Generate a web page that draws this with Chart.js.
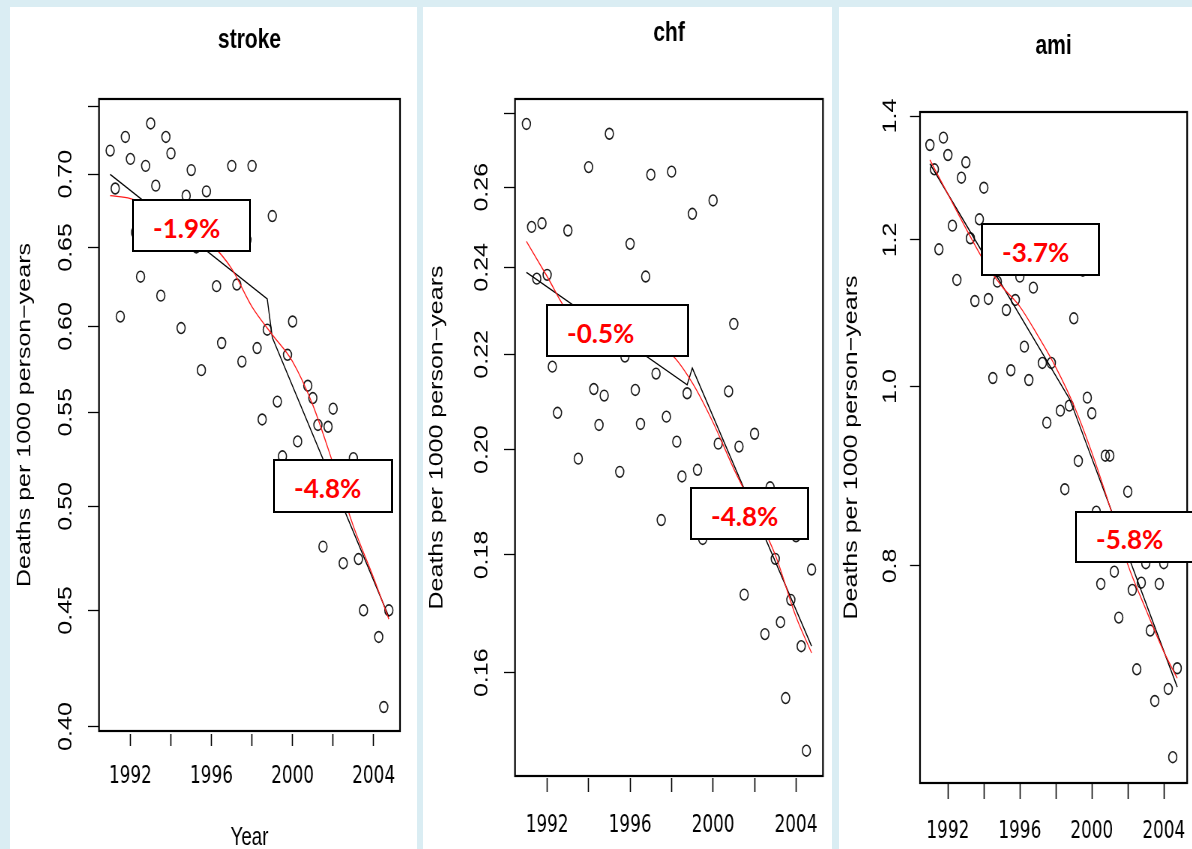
<!DOCTYPE html>
<html>
<head>
<meta charset="utf-8">
<title>Deaths per 1000 person-years: stroke, chf, ami</title>
<script src="https://cdn.jsdelivr.net/npm/chart.js@4.4.1/dist/chart.umd.min.js"></script>
<style>
  html, body { margin: 0; padding: 0; }
  body { width: 1192px; height: 849px; background: #daedf3; position: relative; overflow: hidden; }
  .panel { position: absolute; top: 7px; height: 842px; background: #fff; overflow: hidden; }
  /* the original plots are squeezed sideways, so draw wide and compress */
  .squeeze { position: absolute; left: 0; top: 0; transform: scaleX(0.75); transform-origin: 0 0; }
  .squeeze canvas { display: block; }
  .note { position: absolute; box-sizing: border-box; background: #fff; border: 2px solid #000;
          color: #ff0000; font: 700 26px Lato, 'Open Sans', sans-serif;
          display: flex; align-items: center; padding: 4px 0 0 19px; white-space: nowrap; }
</style>
</head>
<body>

<div class="panel" style="left:10px; width:407px;">
  <div class="squeeze" style="width:543px;"><canvas id="strokeChart" width="543" height="860"></canvas></div>
</div>
<div class="panel" style="left:423px; width:409px;">
  <div class="squeeze" style="width:545px;"><canvas id="chfChart" width="545" height="860"></canvas></div>
</div>
<div class="panel" style="left:839px; width:353px;">
  <div class="squeeze" style="width:480px;"><canvas id="amiChart" width="480" height="860"></canvas></div>
</div>

<!-- annual percent change call-outs -->
<div class="note" style="left:132px; top:199px; width:119px; height:53px;">-1.9%</div>
<div class="note" style="left:273px; top:459px; width:120px; height:54px;">-4.8%</div>
<div class="note" style="left:546px; top:304px; width:143px; height:53px;">-0.5%</div>
<div class="note" style="left:690px; top:487px; width:119px; height:53px;">-4.8%</div>
<div class="note" style="left:981px; top:223px; width:119px; height:53px;">-3.7%</div>
<div class="note" style="left:1075px; top:511px; width:130px; height:52px;">-5.8%</div>

<script>
// quarterly observations 1991 Q1 .. 2004 Q4
const quarters = [
    1991, 1991.25, 1991.5, 1991.75, 1992, 1992.25, 1992.5, 1992.75,
    1993, 1993.25, 1993.5, 1993.75, 1994, 1994.25, 1994.5, 1994.75,
    1995, 1995.25, 1995.5, 1995.75, 1996, 1996.25, 1996.5, 1996.75,
    1997, 1997.25, 1997.5, 1997.75, 1998, 1998.25, 1998.5, 1998.75,
    1999, 1999.25, 1999.5, 1999.75, 2000, 2000.25, 2000.5, 2000.75,
    2001, 2001.25, 2001.5, 2001.75, 2002, 2002.25, 2002.5, 2002.75,
    2003, 2003.25, 2003.5, 2003.75, 2004, 2004.25, 2004.5, 2004.75
];

const strokeRates = [
    0.717, 0.690, 0.606, 0.727, 0.711, 0.660, 0.631, 0.706,
    0.737, 0.692, 0.619, 0.727, 0.715, 0.655, 0.599, 0.685,
    0.703, 0.650, 0.574, 0.688, 0.665, 0.625, 0.590, 0.675,
    0.706, 0.626, 0.579, 0.655, 0.706, 0.587, 0.546, 0.598,
    0.671, 0.556, 0.526, 0.583, 0.603, 0.534, 0.510, 0.565,
    0.558, 0.543, 0.480, 0.542, 0.552, 0.500, 0.472, 0.515,
    0.525, 0.474, 0.450, 0.505, 0.500, 0.438, 0.408, 0.450
];
const chfRates = [
    0.2770, 0.2499, 0.2373, 0.2508, 0.2382, 0.2173, 0.2075, 0.2280,
    0.2490, 0.2250, 0.1982, 0.2230, 0.2653, 0.2125, 0.2050, 0.2111,
    0.2743, 0.2260, 0.1956, 0.2195, 0.2457, 0.2123, 0.2052, 0.2378,
    0.2633, 0.2158, 0.1864, 0.2067, 0.2641, 0.2016, 0.1947, 0.2116,
    0.2532, 0.1960, 0.1829, 0.1880, 0.2566, 0.2012, 0.1860, 0.2120,
    0.2268, 0.2006, 0.1730, 0.1900, 0.2032, 0.1850, 0.1663, 0.1926,
    0.1793, 0.1683, 0.1560, 0.1721, 0.1834, 0.1643, 0.1480, 0.1774
];
const amiRates = [
    1.3505, 1.3103, 1.1862, 1.3629, 1.3338, 1.2216, 1.1418, 1.2967,
    1.3218, 1.2026, 1.1123, 1.2313, 1.2806, 1.1151, 1.0107, 1.1394,
    1.1700, 1.0999, 1.0205, 1.1137, 1.1465, 1.0509, 1.0082, 1.1309,
    1.1800, 1.0298, 0.9561, 1.0298, 1.1600, 0.9705, 0.8801, 0.9765,
    1.0886, 0.9116, 1.1550, 0.9863, 0.9673, 0.8559, 0.7823, 0.9176,
    0.9176, 0.7943, 0.7502, 0.8300, 0.8774, 0.7765, 0.7035, 0.7835,
    0.8027, 0.7382, 0.6763, 0.7823, 0.8027, 0.6865, 0.6306, 0.7044
];

// joinpoint fit (black), ends of the two segments
const joinYears = [1991, 1998.75, 1999, 2004.75];
const strokeJoin = [0.7000, 0.6170, 0.5933, 0.4470];
const chfJoin = [0.2388, 0.2134, 0.2170, 0.1643];
const amiJoin = [1.3194, 0.9851, 0.9713, 0.6881];

const smoothYears = [1991, 1992, 1993, 1994, 1995, 1996, 1997, 1998, 1999, 2000, 2001, 2002, 2003, 2004, 2004.75];
const strokeSmooth = [0.685, 0.683, 0.678, 0.670, 0.661, 0.652, 0.636, 0.612, 0.595, 0.579, 0.554, 0.522, 0.490, 0.465, 0.446];
const chfSmooth = [0.2463, 0.2378, 0.2295, 0.2265, 0.2245, 0.2228, 0.2215, 0.2199, 0.2138, 0.2055, 0.1962, 0.1882, 0.1800, 0.1692, 0.1632];
const amiSmooth = [1.3256, 1.2704, 1.2175, 1.1693, 1.1330, 1.1046, 1.0654, 1.0242, 0.9770, 0.9213, 0.8615, 0.8014, 0.7581, 0.7192, 0.6957];

// axis ticks
const xTicks = [1992, 1994, 1996, 1998, 2000, 2002, 2004];
const xTickLabels = ['1992', '', '1996', '', '2000', '', '2004'];
const strokeTicks = [0.40, 0.45, 0.50, 0.55, 0.60, 0.65, 0.70, 0.75];
const strokeTickLabels = ['0.40', '0.45', '0.50', '0.55', '0.60', '0.65', '0.70', ''];
const chfTicks = [0.16, 0.18, 0.20, 0.22, 0.24, 0.26, 0.28];
const chfTickLabels = ['0.16', '0.18', '0.20', '0.22', '0.24', '0.26', ''];
const amiTicks = [0.8, 1.0, 1.2, 1.4];
const amiTickLabels = ['0.8', '1.0', '1.2', '1.4'];

const SANS = "'Liberation Sans', Arial, sans-serif";
const NARROW = "'Liberation Sans Narrow', 'DejaVu Sans Condensed', sans-serif";

function pairs(xs, ys) {
    return xs.map((x, i) => ({ x: x, y: ys[i] }));
}

// box around the plot region, R style
const frameBox = {
    id: 'frameBox',
    afterDatasetsDraw(chart) {
        const a = chart.chartArea;
        const ctx = chart.ctx;
        ctx.save();
        ctx.strokeStyle = '#000';
        ctx.lineWidth = 2.2;
        ctx.strokeRect(a.left, a.top, a.right - a.left, a.bottom - a.top);
        ctx.restore();
    }
};

function drawPanel(id, p) {
    const ctx = document.getElementById(id).getContext('2d');
    return new Chart(ctx, {
        type: 'scatter',
        data: {
            datasets: [
                {
                    label: 'smooth',
                    data: pairs(smoothYears, p.smooth),
                    showLine: true,
                    borderColor: '#ff1a1a',
                    borderWidth: 1.3,
                    pointRadius: 0,
                    cubicInterpolationMode: 'monotone',
                    order: 0
                },
                {
                    label: 'joinpoint',
                    data: pairs(joinYears, p.join),
                    showLine: true,
                    borderColor: '#000',
                    borderWidth: 1.4,
                    pointRadius: 0,
                    order: 1
                },
                {
                    label: 'observed',
                    data: pairs(quarters, p.rates),
                    pointStyle: 'circle',
                    pointRadius: 5.4,
                    borderWidth: 1.6,
                    borderColor: '#1a1a1a',
                    backgroundColor: 'rgba(0,0,0,0)',
                    order: 2
                }
            ]
        },
        options: {
            responsive: false,
            animation: false,
            devicePixelRatio: 1,
            events: [],
            layout: { padding: { left: 0, right: p.padRight, top: 0, bottom: 0 } },
            plugins: {
                legend: { display: false },
                tooltip: { enabled: false },
                title: {
                    display: true,
                    text: p.title,
                    fullSize: false,
                    color: '#000',
                    font: { family: SANS, size: 28, weight: 'bold' },
                    padding: p.titlePad
                }
            },
            scales: {
                x: {
                    type: 'linear',
                    min: 1990.45,
                    max: 2005.3,
                    bounds: 'data',
                    afterBuildTicks: (s) => { s.ticks = xTicks.map(v => ({ value: v })); },
                    afterFit: (s) => { s.height = p.xHeight; },
                    border: { display: false },
                    grid: {
                        drawOnChartArea: false,
                        drawTicks: true,
                        tickLength: p.xTickLen,
                        tickBorderDash: p.xTickDash,
                        tickColor: '#000',
                        tickWidth: 1.6
                    },
                    ticks: {
                        autoSkip: false,
                        maxRotation: 0,
                        minRotation: 0,
                        padding: p.xTickPad,
                        color: '#000',
                        font: { family: NARROW, size: 25 },
                        callback: (v, i) => xTickLabels[i]
                    },
                    title: {
                        display: p.showYear,
                        text: 'Year',
                        color: '#000',
                        font: { family: SANS, size: 25 },
                        padding: { top: 0, bottom: 14 }
                    }
                },
                y: {
                    type: 'logarithmic',
                    min: p.yMin,
                    max: p.yMax,
                    bounds: 'data',
                    afterBuildTicks: (s) => { s.ticks = p.yTicks.map(v => ({ value: v })); },
                    afterFit: (s) => { s.width = p.yWidth; },
                    border: { display: false },
                    grid: {
                        drawOnChartArea: false,
                        drawTicks: true,
                        tickLength: p.yTickLen,
                        tickColor: '#000',
                        tickWidth: 1.3
                    },
                    ticks: {
                        autoSkip: false,
                        minRotation: 90,
                        maxRotation: 90,
                        crossAlign: 'center',
                        padding: p.yTickPad,
                        color: '#000',
                        font: { family: SANS, size: 25 },
                        callback: (v, i) => p.yTickLabels[i]
                    },
                    title: {
                        display: true,
                        text: 'Deaths per 1000 person\u2212years',
                        color: '#000',
                        font: { family: SANS, size: 25 },
                        padding: { top: p.yTitlePad, bottom: 0 }
                    }
                }
            }
        },
        plugins: [frameBox]
    });
}

document.addEventListener('DOMContentLoaded', function () {
    drawPanel('strokeChart', {
        title: 'stroke', rates: strokeRates, join: strokeJoin, smooth: strokeSmooth,
        yTicks: strokeTicks, yTickLabels: strokeTickLabels, yMin: 0.3982, yMax: 0.7555,
        padRight: 23, yWidth: 118.67, xHeight: 136,
        titlePad: { top: 16.2, bottom: 42.2 },
        yTitlePad: 5, yTickPad: 5, yTickLen: 14.67,
        xTickLen: 15, xTickDash: [0, 3, 12, 50], xTickPad: 15, showYear: true
    });
    drawPanel('chfChart', {
        title: 'chf', rates: chfRates, join: chfJoin, smooth: chfSmooth,
        yTicks: chfTicks, yTickLabels: chfTickLabels, yMin: 0.1443, yMax: 0.2840,
        padRight: 11.67, yWidth: 122.67, xHeight: 91,
        titlePad: { top: 9.2, bottom: 49.2 },
        yTitlePad: 4.3, yTickPad: 4.4, yTickLen: 14.67,
        xTickLen: 16, xTickDash: [0, 2, 14, 50], xTickPad: 18, showYear: false
    });
    drawPanel('amiChart', {
        title: 'ami', rates: amiRates, join: amiJoin, smooth: amiSmooth,
        yTicks: amiTicks, yTickLabels: amiTickLabels, yMin: 0.6107, yMax: 1.4071,
        padRight: 8, yWidth: 108, xHeight: 84,
        titlePad: { top: 22.2, bottom: 49.2 },
        yTitlePad: 2.3, yTickPad: 8.6, yTickLen: 13.3,
        xTickLen: 16, xTickDash: [], xTickPad: 17, showYear: false
    });
});
</script>
</body>
</html>
